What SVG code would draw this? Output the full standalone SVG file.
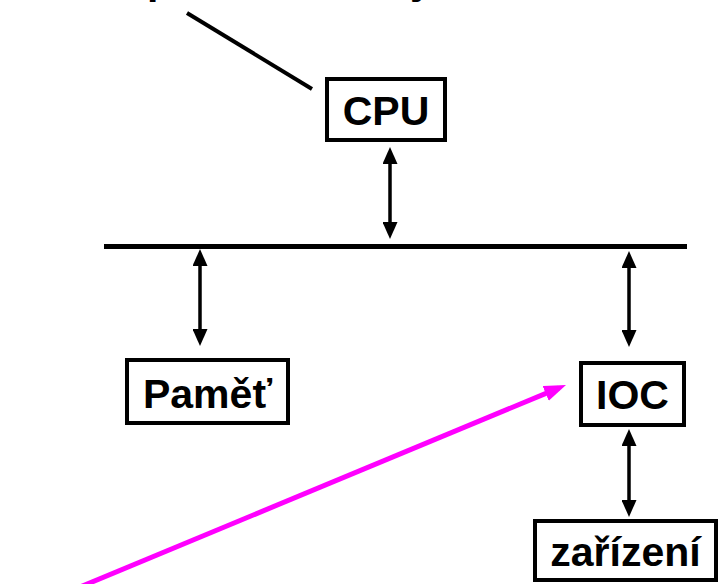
<svg xmlns="http://www.w3.org/2000/svg" width="720" height="584" viewBox="0 0 720 584">
  <style>
    .box { fill: #ffffff; stroke: #000000; stroke-width: 4; }
    .lbl { font-family: "Liberation Sans", Arial, sans-serif; font-weight: bold; font-size: 41px; fill: #000000; text-anchor: middle; }
    .bus { stroke: #000000; stroke-width: 5; fill: none; }
    .link { stroke: #000000; stroke-width: 3.5; fill: none; marker-start: url(#head); marker-end: url(#head); }
    .ptr { stroke: #ff00ff; stroke-width: 5; fill: none; marker-end: url(#headM); }
  </style>
  <defs>
    <marker id="head" markerUnits="userSpaceOnUse" markerWidth="17" markerHeight="15" refX="10" refY="7.5" orient="auto-start-reverse">
      <path d="M0,0 L17,7.5 L0,15 z" fill="#000000"/>
    </marker>
    <marker id="headM" markerUnits="userSpaceOnUse" markerWidth="22" markerHeight="16" refX="14" refY="8" orient="auto">
      <path d="M0,0 L22,8 L0,16 z" fill="#ff00ff"/>
    </marker>
  </defs>
  <rect width="720" height="584" fill="#ffffff"/>

  <!-- heading line running off the top edge -->
  <g id="heading">
    <text class="lbl" x="147" y="-6" style="text-anchor:start">p</text>
    <text class="lbl" x="410" y="-6" style="text-anchor:start">y</text>
    <line x1="187" y1="13" x2="312" y2="89" stroke="#000000" stroke-width="4"/>
  </g>

  <g id="connectors">
    <line class="bus" x1="104" y1="246.5" x2="687" y2="246.5"/>
    <line class="link" x1="390" y1="154" x2="390" y2="232"/>
    <line class="link" x1="200" y1="256" x2="200" y2="339"/>
    <line class="link" x1="629" y1="258" x2="629" y2="340"/>
    <line class="link" x1="629" y1="436" x2="629" y2="510"/>
    <line class="ptr" x1="68" y1="592" x2="558.6" y2="388.1"/>
  </g>

  <g id="cpu">
    <rect class="box" x="327" y="79" width="118" height="61"/>
    <text class="lbl" x="386" y="125">CPU</text>
  </g>
  <g id="pamet">
    <rect class="box" x="127" y="360" width="161" height="63"/>
    <text class="lbl" x="207.5" y="408">Paměť</text>
  </g>
  <g id="ioc">
    <rect class="box" x="581" y="363" width="103" height="62"/>
    <text class="lbl" x="632.5" y="409">IOC</text>
  </g>
  <g id="zarizeni">
    <rect class="box" x="535" y="521" width="181" height="59"/>
    <text class="lbl" x="625.5" y="566">zařízení</text>
  </g>
</svg>
